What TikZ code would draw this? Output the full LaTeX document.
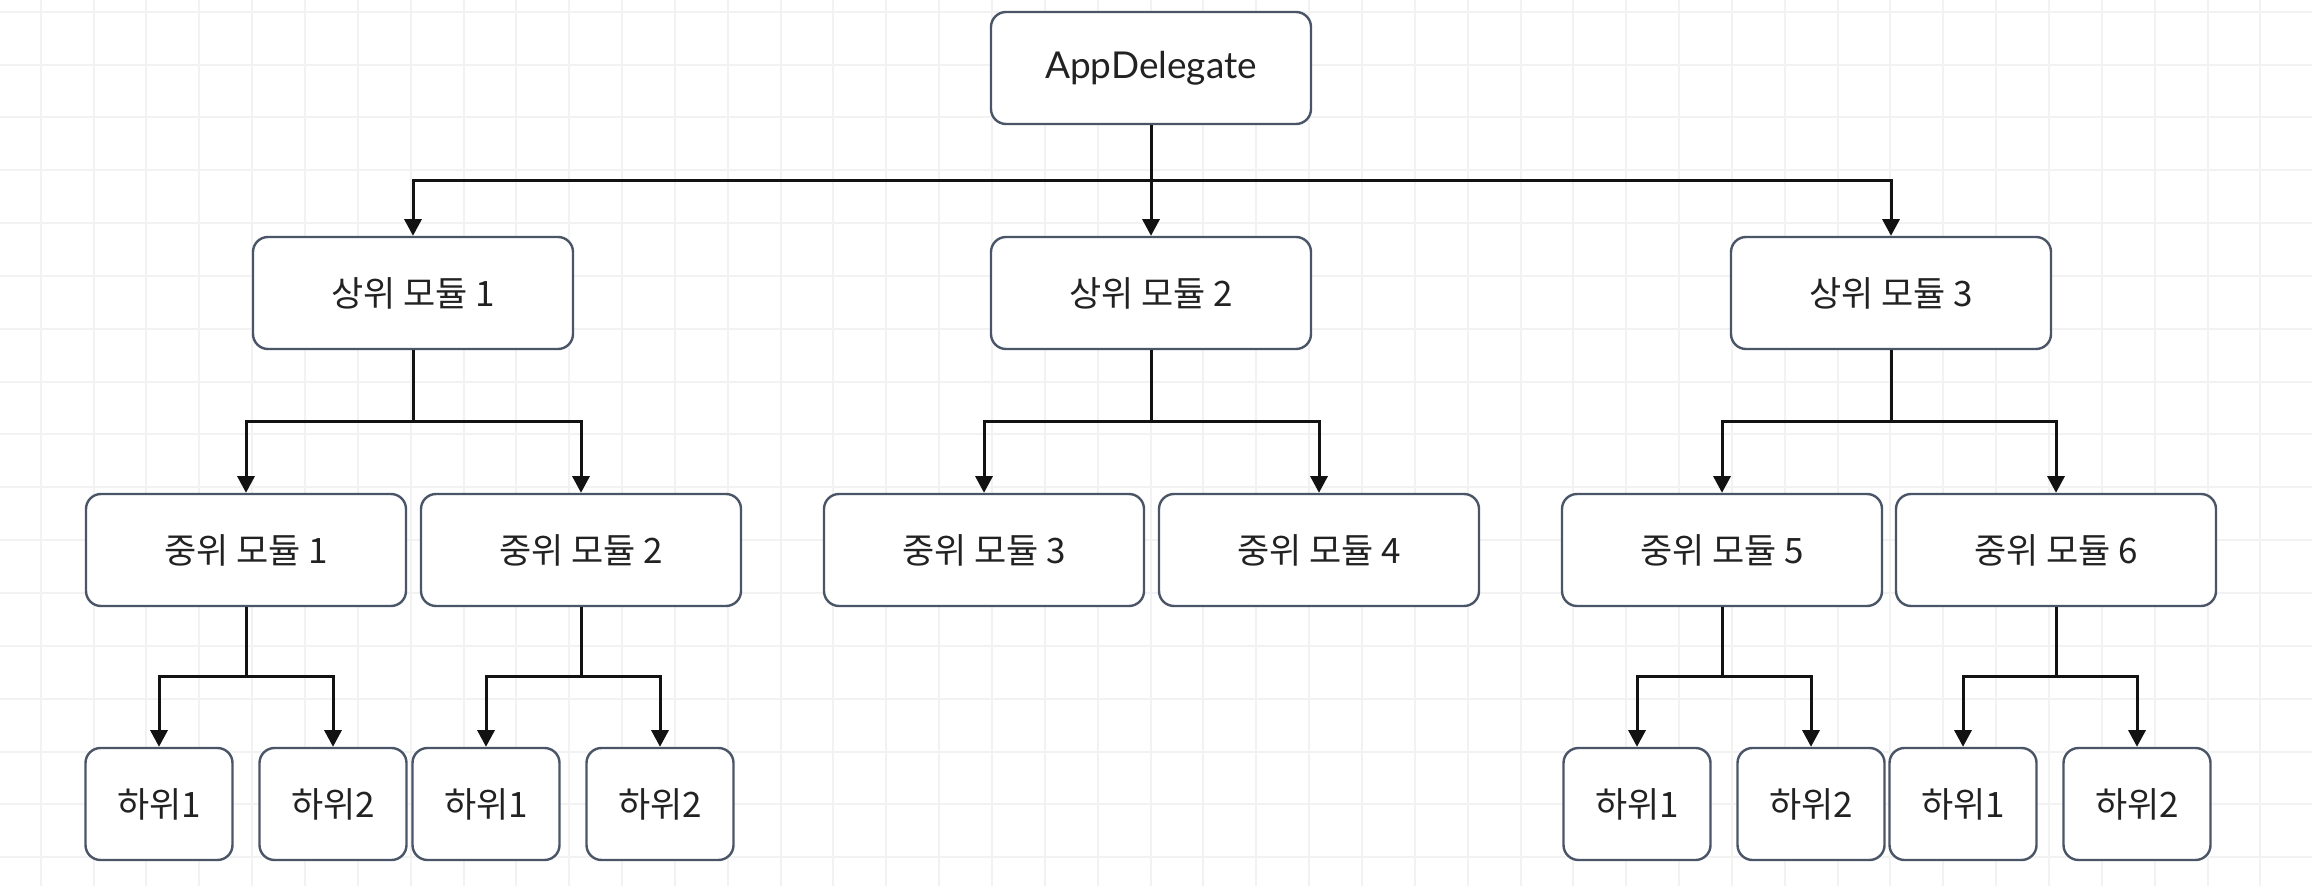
\documentclass[tikz,border=0pt]{standalone}
\usepackage{fontspec}
\setmainfont{Lato}
\newfontfamily\kr{Noto Sans CJK KR}
\usetikzlibrary{arrows.meta,calc}
\definecolor{boxline}{HTML}{4A5568}
\definecolor{ink}{HTML}{222222}
\tikzstyle{gridline}=[line width=1,black!5]
\tikzstyle{module}=[draw=boxline,line width=1.2,rounded corners=7.5,fill=white,text=ink,
                    minimum width=160,minimum height=56,font=\kr\fontsize{17.5}{21}\selectfont]
\tikzstyle{leaf}=[module,minimum width=73.5]
\tikzstyle{root}=[module,font=\fontsize{18.5}{22}\selectfont]
\tikzstyle{link}=[-{Triangle[length=8.3,width=8.5]},line width=1.5,black!93,
                  to path={|- ($(\tikztostart)!0.5!(\tikztotarget)$) -| (\tikztotarget)}]

\begin{document}
\begin{tikzpicture}[x=0.5pt,y=-0.5pt]
  \def\g{52.85}  % grid step
  \def\gx{40.7}  % first vertical grid line
  \def\gy{11.7}  % first horizontal grid line
  \path[use as bounding box,fill=white] (0,0) rectangle (2312,886);

  % GRID
  \foreach \i in {0,...,42} \draw[gridline] (\gx+\i*\g,0) -- (\gx+\i*\g,886);
  \foreach \j in {0,...,16} \draw[gridline] (0,\gy+\j*\g) -- (2312,\gy+\j*\g);

  % ROOT & UPPER MODULES
  \node[root] (app) at (1151,68) {AppDelegate};
  \node[module] (up1) at (413,293) {상위 모듈 1};
  \node[module] (up2) at (1151,293) {상위 모듈 2};
  \node[module] (up3) at (1891,293) {상위 모듈 3};

  % MIDDLE MODULES
  \node[module] (mid1) at (246,550) {중위 모듈 1};
  \node[module] (mid2) at (581,550) {중위 모듈 2};
  \node[module] (mid3) at (984,550) {중위 모듈 3};
  \node[module] (mid4) at (1319,550) {중위 모듈 4};
  \node[module] (mid5) at (1722,550) {중위 모듈 5};
  \node[module] (mid6) at (2056,550) {중위 모듈 6};

  % LOWER MODULES
  \node[leaf] (low11) at (159,804) {하위1};
  \node[leaf] (low12) at (333,804) {하위2};
  \node[leaf] (low21) at (486,804) {하위1};
  \node[leaf] (low22) at (660,804) {하위2};
  \node[leaf] (low51) at (1637,804) {하위1};
  \node[leaf] (low52) at (1811,804) {하위2};
  \node[leaf] (low61) at (1963,804) {하위1};
  \node[leaf] (low62) at (2137,804) {하위2};

  % LINKS
  \foreach \c in {up1,up2,up3} \draw[link] (app.south) to (\c.north);
  \foreach \p/\a/\b in {up1/mid1/mid2,up2/mid3/mid4,up3/mid5/mid6,
                        mid1/low11/low12,mid2/low21/low22,mid5/low51/low52,mid6/low61/low62} {
    \draw[link] (\p.south) to (\a.north);
    \draw[link] (\p.south) to (\b.north);
  }

\end{tikzpicture}
\end{document}
